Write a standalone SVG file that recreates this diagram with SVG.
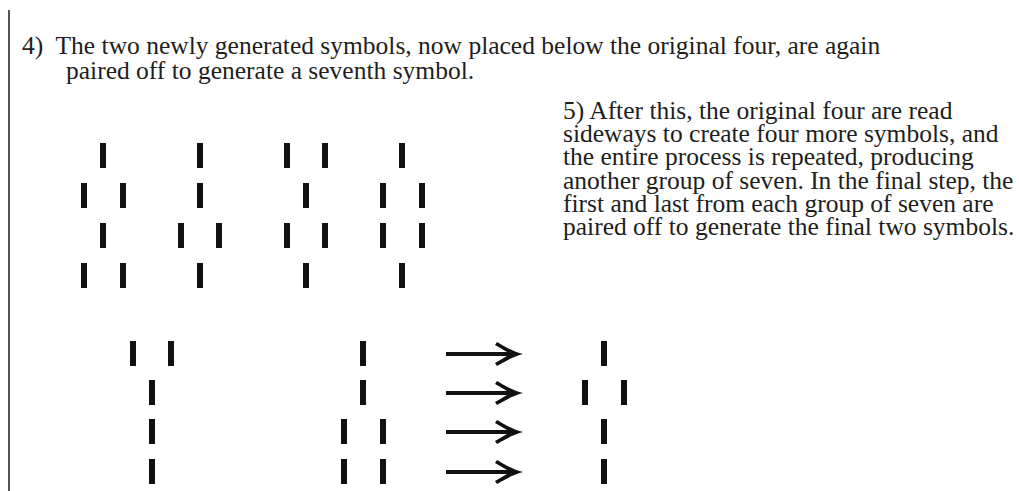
<svg xmlns="http://www.w3.org/2000/svg" width="1019" height="491" viewBox="0 0 1019 491">
  <style>
    .txt { font-family: "Liberation Serif", "Times New Roman", serif; font-size: 25.5px; fill: #1e1e1e; }
    .bar { fill: #111; }
    .arrow { stroke: #111; stroke-width: 4; fill: none; marker-end: url(#head); }
  </style>
  <defs>
    <rect id="b" class="bar" x="-3" y="0" width="6" height="25"/>
    <marker id="head" markerUnits="userSpaceOnUse" viewBox="0 0 30 30" markerWidth="30" markerHeight="30" refX="17" refY="15" orient="auto">
      <path d="M28,15 C20,13 10,8 2,3 L0,6 C7,10 12,13 15,15 C12,17 7,20 0,24 L2,27 C10,22 20,17 28,15 Z" fill="#111"/>
    </marker>
  </defs>

  <rect width="1019" height="491" fill="#fff"/>
  <line x1="9" y1="10" x2="9" y2="491" stroke="#555" stroke-width="2"/>

  <g id="step4-text" class="txt">
    <text x="22" y="54">4)&#160; The two newly generated symbols, now placed below the original four, are again</text>
    <text x="66" y="79">paired off to generate a seventh symbol.</text>
  </g>

  <g id="step5-text" class="txt">
    <text x="563" y="119">5) After this, the original four are read</text>
    <text x="563" y="142">sideways to create four more symbols, and</text>
    <text x="563" y="165">the entire process is repeated, producing</text>
    <text x="563" y="189">another group of seven. In the final step, the</text>
    <text x="563" y="212">first and last from each group of seven are</text>
    <text x="563" y="235">paired off to generate the final two symbols.</text>
  </g>

  <!-- original four symbols, four rows each -->
  <g id="symbol-1">
    <use href="#b" x="103" y="143"/>
    <use href="#b" x="84" y="183"/><use href="#b" x="123" y="183"/>
    <use href="#b" x="103" y="223"/>
    <use href="#b" x="84" y="263"/><use href="#b" x="123" y="263"/>
  </g>
  <g id="symbol-2">
    <use href="#b" x="200" y="143"/>
    <use href="#b" x="200" y="183"/>
    <use href="#b" x="181" y="223"/><use href="#b" x="219" y="223"/>
    <use href="#b" x="200" y="263"/>
  </g>
  <g id="symbol-3">
    <use href="#b" x="287" y="143"/><use href="#b" x="325" y="143"/>
    <use href="#b" x="306" y="183"/>
    <use href="#b" x="287" y="223"/><use href="#b" x="325" y="223"/>
    <use href="#b" x="306" y="263"/>
  </g>
  <g id="symbol-4">
    <use href="#b" x="402" y="143"/>
    <use href="#b" x="383" y="183"/><use href="#b" x="422" y="183"/>
    <use href="#b" x="383" y="223"/><use href="#b" x="422" y="223"/>
    <use href="#b" x="402" y="263"/>
  </g>

  <!-- generated symbols -->
  <g id="symbol-5">
    <use href="#b" x="133" y="341"/><use href="#b" x="171" y="341"/>
    <use href="#b" x="152" y="380"/>
    <use href="#b" x="152" y="419"/>
    <use href="#b" x="152" y="459"/>
  </g>
  <g id="symbol-6">
    <use href="#b" x="363" y="341"/>
    <use href="#b" x="363" y="380"/>
    <use href="#b" x="344" y="419"/><use href="#b" x="383" y="419"/>
    <use href="#b" x="344" y="459"/><use href="#b" x="383" y="459"/>
  </g>
  <g id="symbol-7">
    <use href="#b" x="604" y="341"/>
    <use href="#b" x="585" y="380"/><use href="#b" x="624" y="380"/>
    <use href="#b" x="604" y="419"/>
    <use href="#b" x="604" y="459"/>
  </g>

  <g id="connectors">
    <line class="arrow" x1="446" y1="354" x2="512" y2="354"/>
    <line class="arrow" x1="446" y1="393" x2="512" y2="393"/>
    <line class="arrow" x1="446" y1="432" x2="512" y2="432"/>
    <line class="arrow" x1="446" y1="472" x2="512" y2="472"/>
  </g>
</svg>
